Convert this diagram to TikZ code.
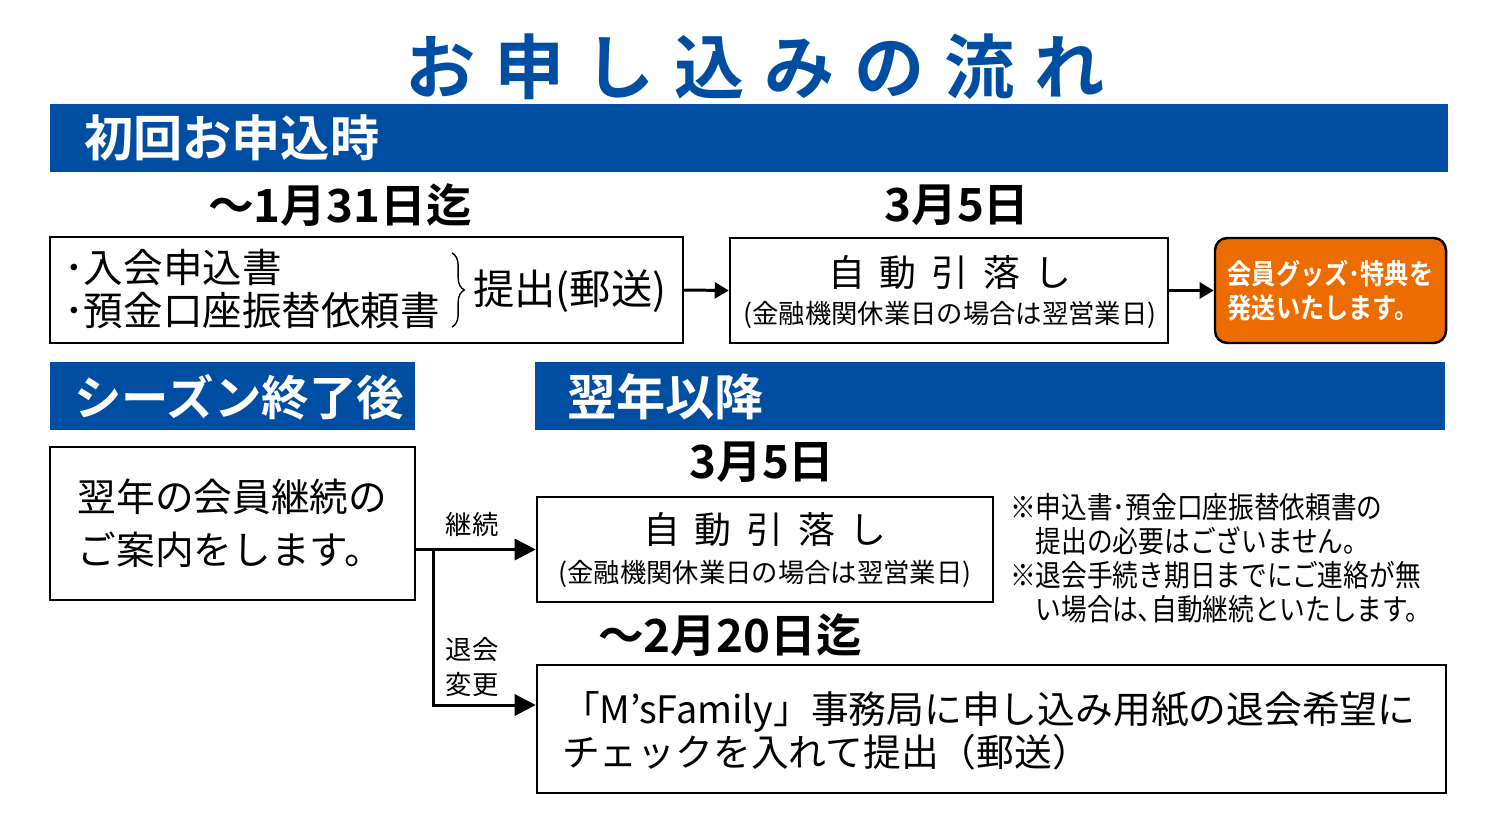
\documentclass[tikz,border=0pt]{standalone}
\usepackage{fontspec}
\setmainfont{Noto Sans CJK JP}[BoldFont={Noto Sans CJK JP Bold}]
\newfontfamily\narrowjp{Noto Sans CJK JP}[FakeStretch=0.86, BoldFont={Noto Sans CJK JP Bold}]
\usetikzlibrary{arrows.meta,fit,decorations.pathreplacing}
\definecolor{bannerblue}{RGB}{0,78,162}
\definecolor{goodsorange}{RGB}{236,108,0}

\tikzset{
  banner/.style   = {fill=bannerblue, inner sep=0pt},
  bannertext/.style = {anchor=west, text=white, font=\bfseries\fontsize{28}{30}\selectfont},
  frame/.style    = {draw=black, line width=1.4pt, inner sep=0pt},
  datetext/.style = {font=\bfseries\fontsize{26}{28}\selectfont},
  maintext/.style = {font=\fontsize{22}{24}\selectfont},
  subtext/.style  = {font=\fontsize{15}{17}\selectfont},
  notetext/.style = {font=\narrowjp\fontsize{17}{19.3}\selectfont, align=left},
  flow/.style     = {line width=1.7pt, -{Triangle[length=8pt,width=9pt]}},
  bigflow/.style  = {line width=1.7pt, -{Triangle[length=12pt,width=12pt]}}
}
\newcommand{\gap}{\hspace{.4em}}

\begin{document}
\begin{tikzpicture}[x=0.02cm, y=-0.02cm]
\useasboundingbox (0,0) rectangle (1500,832);
\fill[white] (0,0) rectangle (1500,832);

% title
\node[text=bannerblue, font=\bfseries\fontsize{40}{42}\selectfont] (title) at (755,67)
  {お\kern.28em 申\kern.28em し\kern.28em 込\kern.28em み\kern.28em の\kern.28em 流\kern.28em れ};

% first application
\node[banner, fit={(50,104) (1448,172)}] (firstbar) {};
\node[bannertext] (firstlbl) at (78,138) {初回お申込時};

\node[datetext] (deadline1) at (340,205) {～1月31日迄};
\node[datetext] (date1) at (957,205) {3月5日};

\node[frame, fit={(50,237) (683,343)}] (apply) {};
\node[maintext, anchor=west, align=left, font=\fontsize{22.5}{24}\selectfont] (forms) at (58,289)
  {･入会申込書\\･預金口座振替依頼書};
\draw[line width=0.8pt, decorate, decoration={brace, amplitude=7}] (452,253) -- (452,327);
\node[maintext, anchor=west, font=\fontsize{23.5}{25}\selectfont] (submit) at (467,291) {提出(郵送)};

\node[frame, fit={(730,238) (1168,343)}] (debit1) {};
\node[font=\fontsize{21}{23}\selectfont] (debit1a) at (950,273) {自\gap 動\gap 引\gap 落\gap し};
\node[subtext] (debit1b) at (950,315) {(金融機関休業日の場合は翌営業日)};

\node[frame, fill=goodsorange, rounded corners=7pt, fit={(1215,238) (1446,343)}] (goods) {};
\node[text=white, align=left, font=\narrowjp\bfseries\fontsize{16}{19}\selectfont] (goodstext) at (goods.center)
  {会員グッズ･特典を\\発送いたします。};

\draw[flow] (apply.east) -- (debit1.west);
\draw[flow] (debit1.east) -- (goods.west);

% after the season / following years
\node[banner, fit={(50,362) (415,430)}] (seasonbar) {};
\node[bannertext, font=\bfseries\fontsize{27}{29}\selectfont] (seasonlbl) at (68,397) {シーズン終了後};
\node[banner, fit={(535,362) (1445,430)}] (nextbar) {};
\node[bannertext] (nextlbl) at (561,397) {翌年以降};

\node[frame, fit={(50,447) (415,600)}] (notice) {};
\node[maintext, align=left, font=\fontsize{22}{30}\selectfont] (noticetext) at (notice.center)
  {翌年の会員継続の\\ご案内をします。};

\node[datetext] (date2) at (762,462) {3月5日};
\node[frame, fit={(537,497) (993,602)}] (debit2) {};
\node[font=\fontsize{21}{23}\selectfont] (debit2a) at (765,530) {自\gap 動\gap 引\gap 落\gap し};
\node[subtext] (debit2b) at (765,574) {(金融機関休業日の場合は翌営業日)};

\node[notetext, anchor=north west] (notes) at (1004,487)
  {※申込書･預金口座振替依頼書の\\
   \phantom{※}提出の必要はございません。\\
   ※退会手続き期日までにご連絡が無\\
   \phantom{※}い場合は､自動継続といたします。};

\node[datetext] (deadline2) at (730,635) {～2月20日迄};
\node[frame, fit={(537,665) (1446,793)}] (cancel) {};
\node[anchor=west, align=left, font=\fontsize{21.5}{23}\selectfont] (canceltext) at (556,731)
  {「M'sFamily」事務局に申し込み用紙の退会希望に\\チェックを入れて提出（郵送）};

\coordinate (split) at (433,0);
\draw[line width=1.7pt] (notice.east |- debit2.west) -- (split |- debit2.west);
\draw[bigflow] (split |- debit2.west) -- (debit2.west);
\draw[bigflow] (split |- debit2.west) |- ([yshift=0.48cm]cancel.west);

\node[subtext] (keeplbl) at (472,524) {継続};
\node[subtext, align=center, font=\fontsize{15}{20}\selectfont] (quitlbl) at (472,667) {退会\\変更};

\end{tikzpicture}
\end{document}
